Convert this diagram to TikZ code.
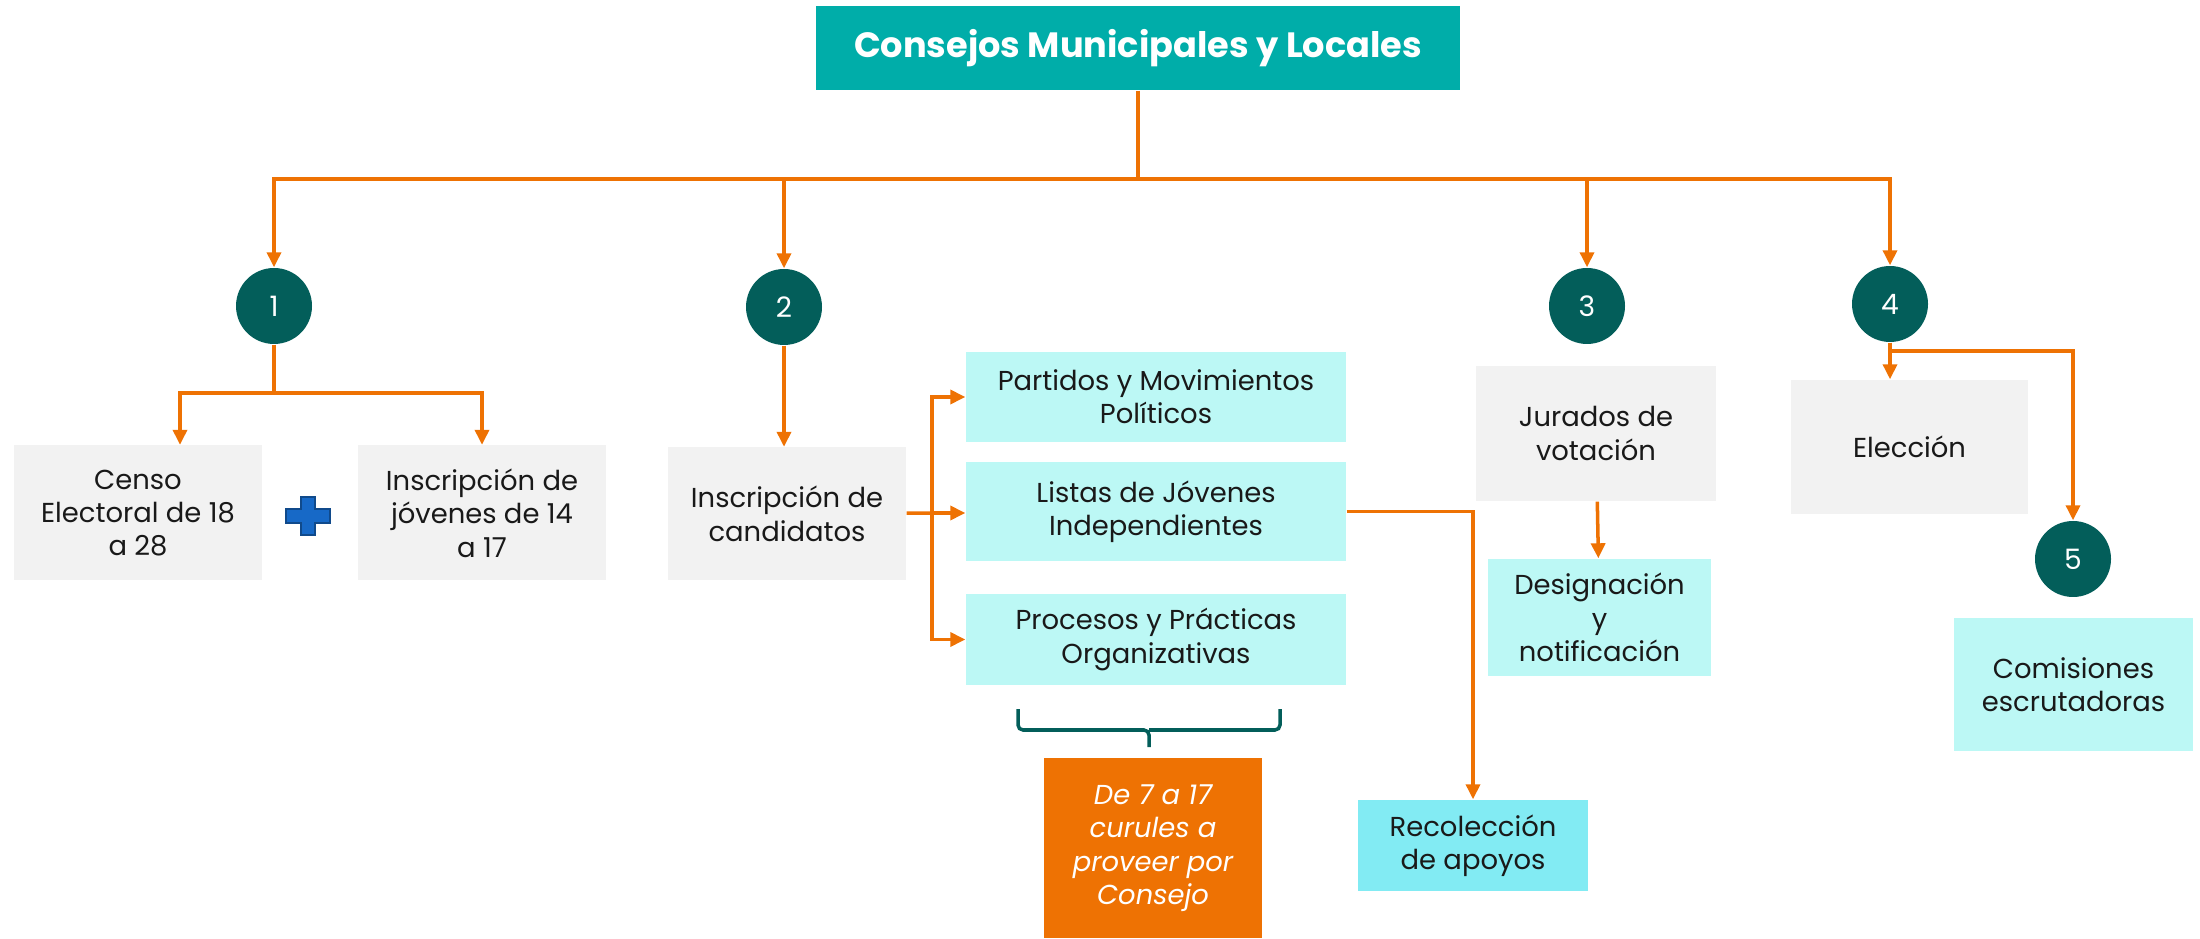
\documentclass[tikz,border=0pt]{standalone}
\usepackage{fontspec}
\setmainfont{Poppins}
\usetikzlibrary{positioning}
\usetikzlibrary{arrows.meta}
\definecolor{naranja}{HTML}{EE7203}
\definecolor{titulo}{HTML}{00ADA9}
\definecolor{verdeosc}{HTML}{035E5A}
\definecolor{gris}{HTML}{F2F2F2}
\definecolor{cian}{HTML}{BCF8F5}
\definecolor{cianfuerte}{HTML}{82EBF3}
\definecolor{azul}{HTML}{1769C7}

\begin{document}
\begin{tikzpicture}[n/.style={circle, fill=verdeosc, text=white, minimum size=0.76cm, inner sep=0pt, font=\fontsize{8}{9}\selectfont},
        box/.style={fill=gris, align=center, inner sep=0pt, text=black!90, font=\fontsize{7.8}{9.5}\selectfont},
        cbox/.style={box, fill=cian},
        flecha/.style={draw=naranja, line width=1pt, -{Triangle[length=1.5mm,width=1.4mm]}},
        linea/.style={draw=naranja, line width=1pt}]
            \useasboundingbox (0,0) rectangle (22,9.38);

            \node[fill=titulo, text=white, minimum width=6.44cm, minimum height=0.84cm, font=\bfseries\fontsize{10}{12}\selectfont] (titulo) at (11.38, 8.90) {Consejos Municipales y Locales};

            \node[n] (c1) at (2.74, 6.32) {1};
            \node[n] (c2) at (7.84, 6.31) {2};
            \node[n] (c3) at (15.87, 6.32) {3};
            \node[n] (c4) at (18.90, 6.34) {4};
            \node[n] (c5) at (20.73, 3.79) {5};

            \node[box, minimum width=2.48cm, minimum height=1.35cm] (censo) at (1.38, 4.25) {Censo\\Electoral de 18\\a 28};
            \node[box, minimum width=2.48cm, minimum height=1.35cm] (jovenes) at (4.82, 4.25) {Inscripción de\\jóvenes de 14\\a 17};
            \node[box, minimum width=2.38cm, minimum height=1.33cm] (candidatos) at (7.87, 4.24) {Inscripción de\\candidatos};
            \node[cbox, minimum width=3.80cm, minimum height=0.90cm] (partidos) at (11.56, 5.41) {Partidos y Movimientos\\Políticos};
            \node[cbox, minimum width=3.80cm, minimum height=0.99cm] (listas) at (11.56, 4.265) {Listas de Jóvenes\\Independientes};
            \node[cbox, minimum width=3.80cm, minimum height=0.91cm] (procesos) at (11.56, 2.985) {Procesos y Prácticas\\Organizativas};
            \node[box, fill=naranja, text=white, minimum width=2.18cm, minimum height=1.80cm, font=\itshape\fontsize{7.8}{9.5}\selectfont] (curules) at (11.53, 0.90) {De 7 a 17\\curules a\\proveer por\\Consejo};
            \node[box, fill=cianfuerte, minimum width=2.30cm, minimum height=0.91cm] (recoleccion) at (14.73, 0.925) {Recolección\\de apoyos};
            \node[box, minimum width=2.40cm, minimum height=1.35cm] (jurados) at (15.96, 5.045) {Jurados de\\votación};
            \node[cbox, minimum width=2.23cm, minimum height=1.17cm] (designacion) at (15.995, 3.205) {Designación\\y\\notificación};
            \node[box, minimum width=2.37cm, minimum height=1.34cm] (eleccion) at (19.095, 4.91) {Elección};
            \node[cbox, minimum width=2.39cm, minimum height=1.33cm] (comisiones) at (20.735, 2.535) {Comisiones\\escrutadoras};

            \fill[azul, draw=azul!70!black, line width=0.4pt] (2.86,4.29) -- (3.01,4.29) -- (3.01,4.41) -- (3.15,4.41) -- (3.15,4.29) -- (3.30,4.29) -- (3.30,4.15) -- (3.15,4.15) -- (3.15,4.03) -- (3.01,4.03) -- (3.01,4.15) -- (2.86,4.15) -- cycle;

            \coordinate (bus) at (11.38, 7.59);
            \coordinate (s1) at (2.74, 5.45);
            \coordinate (s2) at (9.32, 4.25);
            \coordinate (s4) at (18.90, 5.87);
            \coordinate (llave) at (11.49, 2.08);

            \draw[linea] (titulo) -- (bus);
            \draw[flecha] (bus) -| (c1);
            \draw[flecha] (bus) -| (c2);
            \draw[flecha] (bus) -| (c3);
            \draw[flecha] (bus) -| (c4);

            \draw[linea] (c1) -- (s1);
            \draw[flecha] (s1) -| ([xshift=4.2mm]censo.north);
            \draw[flecha] (s1) -| (jovenes);

            \draw[flecha] (c2) -- (c2 |- candidatos.north);
            \draw[linea] (candidatos) -- (s2);
            \draw[flecha] (s2) |- (partidos);
            \draw[flecha] (s2) -- (s2 -| listas.west);
            \draw[flecha] (s2) |- (procesos);
            \draw[flecha] (listas.east) -| (recoleccion);

            \draw[verdeosc, line width=1pt, rounded corners=0.05cm] (10.18, 2.29) |- (llave) -- ++(0, -0.17);
            \draw[verdeosc, line width=1pt, rounded corners=0.05cm] (12.80, 2.29) |- (llave);

            \draw[flecha] (jurados) -- (designacion);

            \draw[flecha] (c4) -- (c4 |- eleccion.north);
            \draw[flecha] (s4) -| (c5);
        \end{tikzpicture}
\end{document}
